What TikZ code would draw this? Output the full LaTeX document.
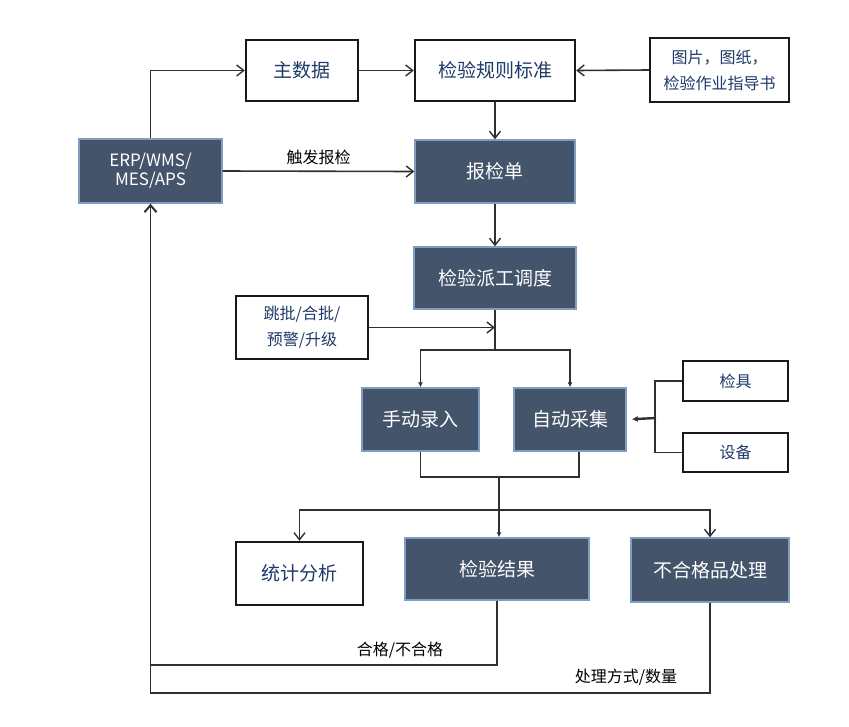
\documentclass[tikz,border=0pt]{standalone}
\usepackage{fontspec}
\setmainfont{Noto Sans CJK SC}
\usetikzlibrary{arrows.meta}

\definecolor{boxfill}{HTML}{44546A}
\definecolor{boxline}{HTML}{809FC0}
\definecolor{txtblue}{HTML}{1F3A68}
\definecolor{linegray}{HTML}{303030}

\begin{document}
\begin{tikzpicture}[x=1pt,y=-1pt,
  darkbox/.style={draw=boxline,line width=1.4pt,fill=boxfill,text=white,inner sep=0pt,
    font=\fontsize{19}{23}\selectfont},
  whitebox/.style={draw=black!90,line width=2.4pt,fill=white,text=txtblue,inner sep=0pt,
    font=\fontsize{19}{23}\selectfont},
  link/.style={draw=linegray,line width=1.6pt},
  open/.style={link,-{Straight Barb[length=7pt,width=11pt,line width=1.4pt]}},
  solid/.style={link,-{Latex[length=5pt,width=5pt]}},
  lbl/.style={font=\fontsize{16}{19}\selectfont,text=black,inner sep=0pt}]
\useasboundingbox (0,0) rectangle (849,726);

% Top row
\node[whitebox,minimum width=112,minimum height=61] (zsj) at (302,70.5) {主数据};
\node[whitebox,minimum width=160,minimum height=61] (gz) at (495,70.5) {检验规则标准};
\node[whitebox,minimum width=139,minimum height=64,align=center,
  font=\fontsize{16}{26}\selectfont] (tp) at (719.5,70) {图片，图纸，\\检验作业指导书};

% Systems and order
\node[darkbox,minimum width=143,minimum height=64,align=center,
  font=\fontsize{17}{19}\selectfont] (erp) at (150.5,171) {ERP/WMS/\\MES/APS};
\node[darkbox,minimum width=160,minimum height=63] (bjd) at (495,171.5) {报检单};
\node[darkbox,minimum width=162,minimum height=62] (pg) at (495,278) {检验派工调度};
\node[whitebox,minimum width=132,minimum height=63,align=center,
  font=\fontsize{16}{26}\selectfont] (tpj) at (302,327.5) {跳批/合批/\\预警/升级};

% Collection
\node[darkbox,minimum width=117,minimum height=63] (sd) at (420.5,419.5) {手动录入};
\node[darkbox,minimum width=112,minimum height=63] (zd) at (570,419.5) {自动采集};
\node[whitebox,minimum width=105,minimum height=40,font=\fontsize{16}{19}\selectfont] (jj) at (735.5,381) {检具};
\node[whitebox,minimum width=105,minimum height=39,font=\fontsize{16}{19}\selectfont] (sb) at (735.5,452.5) {设备};

% Results
\node[whitebox,minimum width=127,minimum height=63] (tj) at (299.5,573.5) {统计分析};
\node[darkbox,minimum width=184,minimum height=62] (jg) at (497,569) {检验结果};
\node[darkbox,minimum width=158,minimum height=64] (bhg) at (710,570) {不合格品处理};

% Junction points
\coordinate (fk) at (495,350);
\coordinate (rk) at (pg.south |- tpj.east);
\coordinate (hb) at (499,477);
\coordinate (fb) at (499,510);
\coordinate (jd) at (656,418);
\coordinate (hk1) at (150.5,665);
\coordinate (hk2) at (150.5,693);

% Connectors
\draw[open] (erp.north) |- (zsj.west);
\draw[open] (zsj.east) -- (gz.west);
\draw[open] (tp.west) -- (gz.east);
\draw[open] (gz.south) -- (bjd.north);
\draw[open] (erp.east) -- node[lbl,above=6pt] (cf) {触发报检} (bjd.west);
\draw[open] (bjd.south) -- (pg.north);
\draw[link] (pg.south) -- (fk);
\draw[open] (tpj.east) -- (rk);
\draw[solid] (fk) -| (sd.north);
\draw[solid] (fk) -| (zd.north);
\draw[link] (jj.west) -- ++(-27,0) |- (sb.west);
\draw[link,line width=2.4pt,-{Latex[length=6pt,width=6pt]},shorten >=5pt] (jd) -- (zd.east);
\draw[link] (sd.south) |- (hb) -| ([xshift=9pt]zd.south);
\draw[solid] (hb) -- (hb |- jg.north);
\draw[open] (fb) -| (tj.north);
\draw[open] (fb) -| (bhg.north);

% Feedback
\draw[link,-{Straight Barb[length=7pt,width=12pt,line width=2pt]}] (jg.south) |- (hk1) -- (erp.south);
\draw[link] (bhg.south) |- (hk2) -- (hk1);
\node[lbl] (hg) at (400,650) {合格/不合格};
\node[lbl] (clfs) at (626,677) {处理方式/数量};
\end{tikzpicture}
\end{document}
